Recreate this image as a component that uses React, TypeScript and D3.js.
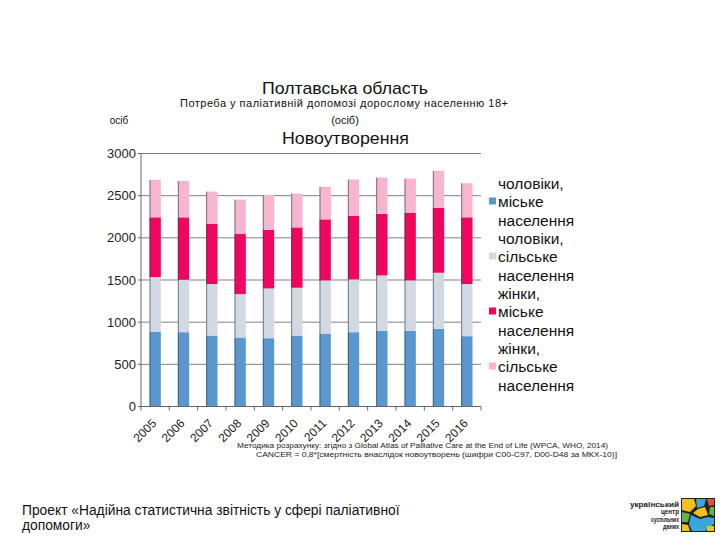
import React from "react";
import * as d3 from "d3";

const years = ["2005","2006","2007","2008","2009","2010","2011","2012","2013","2014","2015","2016"];
const menUrban = [888, 881, 841, 818, 810, 841, 865, 881, 897, 897, 921, 834];
const menRural = [647, 622, 611, 515, 590, 567, 630, 626, 657, 598, 665, 618];
const womenUrban = [708, 740, 712, 712, 693, 716, 724, 752, 729, 804, 768, 791];
const womenRural = [444, 432, 384, 408, 416, 401, 385, 432, 432, 404, 440, 404];
const seriesKeys = ["menUrban", "menRural", "womenUrban", "womenRural"];
const seriesColors = ["#5b97cf", "#d3d9e3", "#f0065f", "#f8b5cf"];
const legendLabels = [
  ["чоловіки,", "міське", "населення"],
  ["чоловіки,", "сільське", "населення"],
  ["жінки,", "міське", "населення"],
  ["жінки,", "сільське", "населення"],
];
const yTicks = [0, 500, 1000, 1500, 2000, 2500, 3000];
const logoLines = ["український", "центр", "суспільних", "даних"];
const logoWidths = [49, 18, 28, 16];

const FONT = "'Liberation Sans', Arial, sans-serif";

export default function App() {
  const rows = years.map((y, i) => ({
    year: y,
    menUrban: menUrban[i],
    menRural: menRural[i],
    womenUrban: womenUrban[i],
    womenRural: womenRural[i],
  }));
  const stacked = d3.stack<any>().keys(seriesKeys)(rows);

  const x = d3.scaleBand<string>().domain(years).range([141, 481]).paddingInner(0.6).paddingOuter(0.3);
  const y = d3.scaleLinear().domain([0, 3000]).range([406.5, 153.5]);
  const step = x.step();

  return (
    <svg width={720} height={540} style={{ position: "absolute", left: 0, top: 0, background: "#fff" }} fontFamily={FONT}>
      {/* Titles */}
      <text x={345} y={93.5} textAnchor="middle" fontSize={17} fill="#111" textLength={166} lengthAdjust="spacingAndGlyphs">Полтавська область</text>
      <text x={344} y={107} textAnchor="middle" fontSize={11} fill="#111" textLength={328} lengthAdjust="spacing">Потреба у паліативній допомозі дорослому населенню 18+</text>
      <text x={345} y={124} textAnchor="middle" fontSize={11} fill="#111">(осіб)</text>
      <text x={119} y={124} textAnchor="middle" fontSize={10} fill="#111">осіб</text>
      <text x={345.5} y={143.5} textAnchor="middle" fontSize={16.5} fill="#111" textLength={127} lengthAdjust="spacingAndGlyphs">Новоутворення</text>

      {/* Gridlines */}
      {yTicks.filter(t => t > 0).map(t => (
        <line key={t} x1={141} x2={481} y1={y(t)} y2={y(t)} stroke="#808080" strokeWidth={1} />
      ))}

      {/* Bars */}
      {stacked.map((s, si) => (
        <g key={si}>
          {s.map((d, i) => (
            <rect key={i} x={x(years[i])!} width={x.bandwidth()} y={y(d[1])} height={y(d[0]) - y(d[1])} fill={seriesColors[si]} />
          ))}
        </g>
      ))}
      {stacked[3].map((d, i) => (
        <line key={i} x1={x(years[i])! + 0.5} x2={x(years[i])! + 0.5} y1={y(d[1])} y2={y(0)} stroke="#2a3b4f" strokeWidth={1} opacity={0.6} />
      ))}

      {/* Axes */}
      <line x1={141} x2={141} y1={y(3000)} y2={y(0)} stroke="#666" strokeWidth={1} />
      <line x1={138} x2={481} y1={y(0)} y2={y(0)} stroke="#666" strokeWidth={1} />
      {yTicks.map(t => (
        <g key={t}>
          <line x1={138} x2={141} y1={y(t)} y2={y(t)} stroke="#666" />
          <text x={136} y={y(t) + 4.5} textAnchor="end" fontSize={13} fill="#222">{t}</text>
        </g>
      ))}
      {d3.range(years.length + 1).map(i => (
        <line key={i} x1={141 + i * step} x2={141 + i * step} y1={y(0)} y2={y(0) + 4} stroke="#666" />
      ))}
      {years.map(yr => {
        const cx = x(yr)! + x.bandwidth() / 2 + 2;
        const cy = 424;
        return (
          <text key={yr} x={cx} y={cy} textAnchor="end" fontSize={12} fill="#222" transform={`rotate(-45 ${cx} ${cy})`}>{yr}</text>
        );
      })}

      {/* Legend */}
      {legendLabels.map((lines, li) => (
        <g key={li}>
          <rect x={489} y={183 + li * 55 + 18 - 3.5} width={7} height={7} fill={seriesColors[li]} />
          {lines.map((ln, k) => (
            <text key={k} x={498} y={189 + li * 55 + k * 18.3} fontSize={15.5} fill="#111">{ln}</text>
          ))}
        </g>
      ))}

      {/* Footnote */}
      <text x={237} y={447.5} fontSize={8} fill="#222" textLength={371} lengthAdjust="spacingAndGlyphs">Методика розрахунку: згідно з Global Atlas of Palliative Care at the End of Life (WPCA, WHO, 2014)</text>
      <text x={256} y={457} fontSize={8} fill="#222" textLength={361} lengthAdjust="spacingAndGlyphs">CANCER = 0,8*[смертність внаслідок новоутворень (шифри C00-C97, D00-D48 за МКХ-10)]</text>

      {/* Bottom project text */}
      <text x={22} y={515} fontSize={13.8} fill="#111">Проект «Надійна статистична звітність у сфері паліативної</text>
      <text x={22} y={529.5} fontSize={13.8} fill="#111">допомоги»</text>

      {/* Logo */}
      <g fontWeight="bold" fontSize={6.6} fill="#222" textAnchor="end">
        {logoLines.map((t, i) => (
          <text key={t} x={679} y={506.5 + i * 7.6} textLength={logoWidths[i]} lengthAdjust="spacingAndGlyphs">{t}</text>
        ))}
      </g>
      <g>
        <rect x={681} y={498} width={34} height={34} fill="#222" />
        <polygon points="682,499 694,499 696,506 690,512 682,510" fill="#f2c21a" />
        <polygon points="696,499 706,499 704,506 697,508" fill="#3aa6dd" />
        <polygon points="707,499 714,499 714,505 709,506" fill="#e0503a" />
        <polygon points="710,507 714,507 714,516 709,514" fill="#6ab04c" />
        <polygon points="698,509 705,507 708,515 700,517 693,513" fill="#f2c21a" />
        <polygon points="682,512 690,514 688,522 682,522" fill="#6ab04c" />
        <polygon points="691,515 700,519 708,517 714,518 714,524 705,531 692,531 689,524" fill="#3aa6dd" />
        <polygon points="682,524 688,525 690,531 682,531" fill="#f2c21a" />
        <polygon points="707,526 714,526 714,531 707,531" fill="#f2c21a" />
      </g>
    </svg>
  );
}
